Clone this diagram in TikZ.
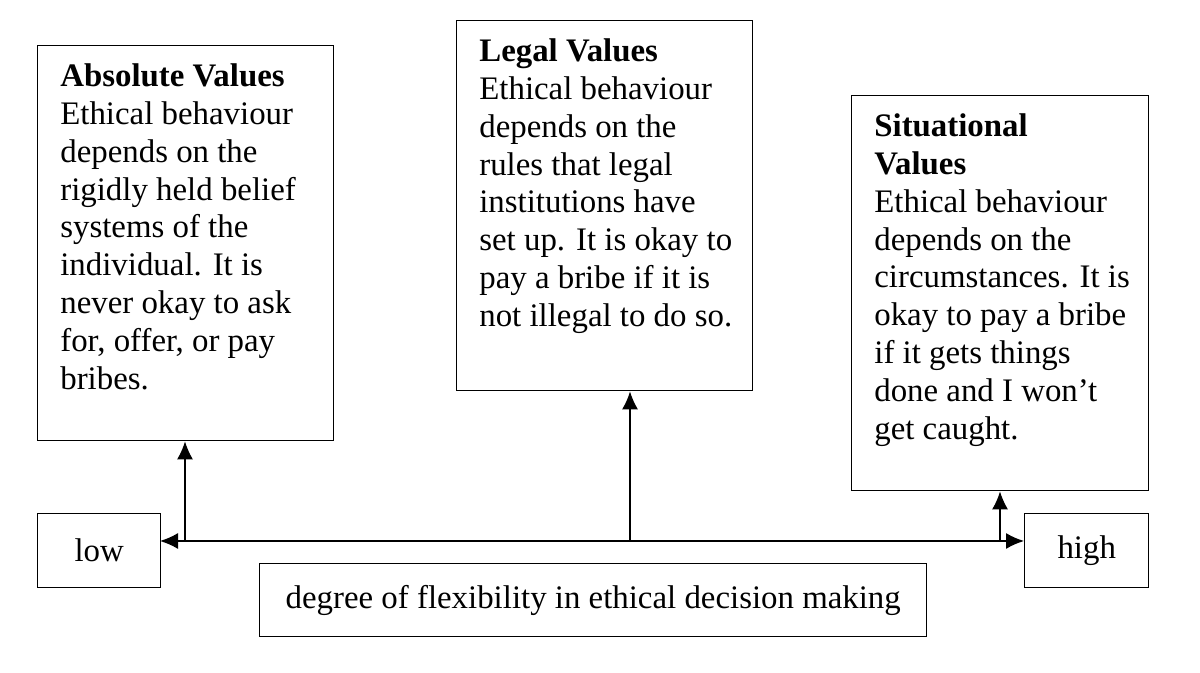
\documentclass[tikz,border=0pt]{standalone}
\usepackage{fontspec}
\setmainfont{Liberation Serif}
\usetikzlibrary{positioning, arrows.meta}
\tikzset{
	valbox/.style={draw, thick, rectangle, inner sep=0pt},
	valtext/.style={anchor=north west, inner sep=0pt, align=left, font=\fontsize{18.7}{21.6}\selectfont},
	endbox/.style={draw, thick, rectangle, inner sep=0pt, font=\fontsize{18.7}{21.6}\selectfont},
}
\begin{document}
\begin{tikzpicture}
	\useasboundingbox (0,0) rectangle (24,13.46);
	
	% value boxes
	\node (abs) [valbox, minimum width=5.92cm, minimum height=7.9cm, anchor=north west] at (0.74,12.56) {};
	\node (abstext) [valtext] at (1.2,12.2) {\textbf{Absolute Values}\\Ethical behaviour\\depends on the\\rigidly held belief\\systems of the\\individual. It is\\never okay to ask\\for, offer, or pay\\bribes.};
	
	\node (leg) [valbox, minimum width=5.92cm, minimum height=7.4cm, anchor=north west] at (9.12,13.06) {};
	\node (legtext) [valtext] at (9.58,12.7) {\textbf{Legal Values}\\Ethical behaviour\\depends on the\\rules that legal\\institutions have\\set up. It is okay to\\pay a bribe if it is\\not illegal to do so.};
	
	\node (sit) [valbox, minimum width=5.94cm, minimum height=7.9cm, anchor=north west] at (17.02,11.56) {};
	\node (sittext) [valtext] at (17.48,11.2) {\textbf{Situational}\\\textbf{Values}\\Ethical behaviour\\depends on the\\circumstances. It is\\okay to pay a bribe\\if it gets things\\done and I won't\\get caught.};
	
	% scale ends
	\node (low) [endbox, minimum width=2.46cm, minimum height=1.48cm, anchor=north west] at (0.74,3.2) {low};
	\node (high) [endbox, minimum width=2.48cm, minimum height=1.48cm, anchor=north west] at (20.48,3.2) {high};
	\node (deg) [endbox, minimum width=13.34cm, minimum height=1.46cm, anchor=north west] at (5.18,2.2) {degree of flexibility in ethical decision making};
	
	\coordinate (axl) at (3.2,2.64);
	\coordinate (axr) at (20.48,2.64);
	\coordinate (absfoot) at (3.7,2.64);
	\coordinate (legfoot) at (12.6,2.64);
	\coordinate (sitfoot) at (20,2.64);
	
	\begin{scope}[thick, black, >={Latex[length=3.6mm, width=3.2mm]}]
		\draw[<->] (axl) -- (axr);
		\draw[->] (absfoot) -- (absfoot |- abs.south);
		\draw[->] (legfoot) -- (legfoot |- leg.south);
		\draw[->] (sitfoot) -- (sitfoot |- sit.south);
	\end{scope}
	
\end{tikzpicture}
\end{document}
